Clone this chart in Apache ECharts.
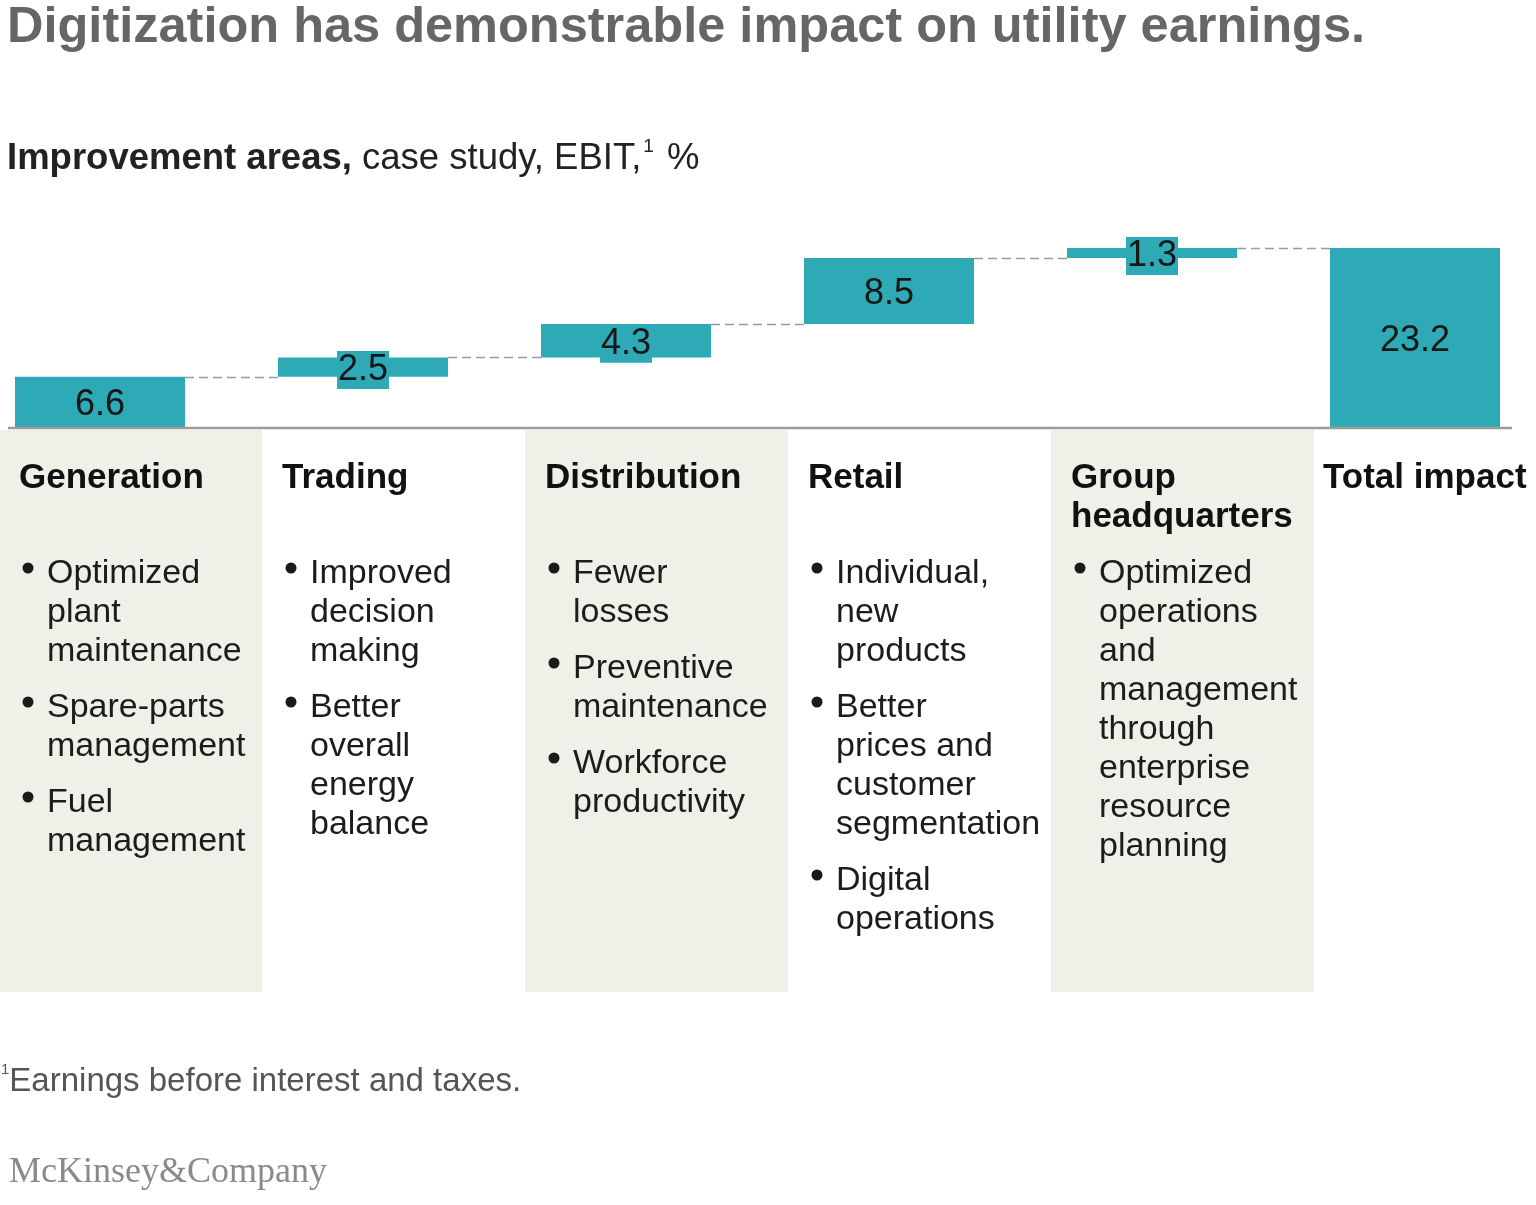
<!DOCTYPE html>
<html>
<head>
<meta charset="utf-8">
<script src="https://cdn.jsdelivr.net/npm/echarts@6/dist/echarts.min.js"></script>
<style>
html,body{margin:0;padding:0;background:#fff;}
#c{width:1536px;height:1205px;}
</style>
</head>
<body>
<div id="c"></div>
<script>
// ---- data ----
const categories = ['Generation', 'Trading', 'Distribution', 'Retail', 'Group\nheadquarters', 'Total impact'];
const values = [6.6, 2.5, 4.3, 8.5, 1.3, 23.2];
const isTotal = [false, false, false, false, false, true];
const bullets = [
  ['Optimized\nplant\nmaintenance', 'Spare-parts\nmanagement', 'Fuel\nmanagement'],
  ['Improved\ndecision\nmaking', 'Better\noverall\nenergy\nbalance'],
  ['Fewer\nlosses', 'Preventive\nmaintenance', 'Workforce\nproductivity'],
  ['Individual,\nnew\nproducts', 'Better\nprices and\ncustomer\nsegmentation', 'Digital\noperations'],
  ['Optimized\noperations\nand\nmanagement\nthrough\nenterprise\nresource\nplanning'],
  []
];
const titleText = 'Digitization has demonstrable impact on utility earnings.';
const footnoteText = 'Earnings before interest and taxes.';
const sourceText = 'McKinsey&Company';

// ---- derived waterfall bases ----
const bases = [];
const tops = [];
let run = 0;
values.forEach((v, i) => {
  if (isTotal[i]) { bases.push(0); tops.push(v); }
  else { bases.push(run); run += v; tops.push(run); }
});

const TEAL = '#2eaab7';
const FONT = '"Liberation Sans", Arial, Helvetica, sans-serif';
const BAR_W = 170;

const chart = echarts.init(document.getElementById('c'), null, {renderer: 'canvas'});

const option = {
  backgroundColor: '#ffffff',
  animation: false,
  grid: {left: -31.5, top: 234, width: 1578, height: 194, containLabel: false, outerBoundsMode: 'none'},
  xAxis: {
    type: 'category', data: categories,
    axisLine: {show: false}, axisTick: {show: false}, axisLabel: {show: false}, splitLine: {show: false}
  },
  yAxis: {
    type: 'value', min: 0, max: 25,
    axisLine: {show: false}, axisTick: {show: false}, axisLabel: {show: false}, splitLine: {show: false}
  },
  series: [
    {
      type: 'bar', name: 'base', stack: 'w', barWidth: BAR_W, silent: true,
      itemStyle: {color: 'rgba(0,0,0,0)'}, data: bases, z: 2
    },
    {
      type: 'bar', name: 'value', stack: 'w', barWidth: BAR_W, silent: true,
      itemStyle: {color: TEAL}, data: values, z: 3,
      label: {
        show: true, position: 'inside', offset: [0, 3],
        formatter: p => p.value.toFixed(1),
        fontFamily: FONT, fontSize: 36, color: '#161616',
        backgroundColor: TEAL, padding: [1, 1, 1, 1], lineHeight: 36
      }
    },
    {
      type: 'custom', name: 'connectors', silent: true, z: 1,
      data: tops.slice(0, -1).map((t, i) => [i, t]),
      renderItem: (params, api) => {
        const i = api.value(0), v = api.value(1);
        const p1 = api.coord([i, v]);
        const p2 = api.coord([i + 1, v]);
        const y = Math.round(p1[1]) + 0.5;
        return {
          type: 'line',
          shape: {x1: p1[0] + BAR_W / 2, y1: y, x2: p2[0] - BAR_W / 2, y2: y},
          style: {stroke: '#9a9a9a', lineWidth: 1.5, lineDash: [9, 5]}
        };
      }
    }
  ]
};
chart.setOption(option);

// ---- decorations placed from axis positions ----
const y0 = chart.convertToPixel({yAxisIndex: 0}, 0);
const centers = categories.map((c, i) => chart.convertToPixel({xAxisIndex: 0}, i));
const graphics = [];

// alternating panels
centers.forEach((cx, i) => {
  if (i % 2 === 0 && i < categories.length - 1) {
    graphics.push({type: 'rect', z: -10, silent: true,
      shape: {x: cx - 101, y: y0 + 2, width: 263, height: 992 - y0 - 2},
      style: {fill: '#f0efe8'}});
  }
});
// baseline
graphics.push({type: 'line', z: 10, silent: true,
  shape: {x1: 8, y1: y0, x2: 1512, y2: y0},
  style: {stroke: '#9c9c9c', lineWidth: 2.5}});

// column texts
const LH = 39;
centers.forEach((cx, i) => {
  const hx = isTotal[i] ? cx - 92 : cx - 81;
  graphics.push({type: 'text', z: 20, silent: true, x: hx, y: 478.5 - LH / 2,
    style: {text: categories[i], font: 'bold 35px ' + FONT, fill: '#111111',
      lineHeight: LH, verticalAlign: 'top', align: 'left'}});
  let y = 571;
  bullets[i].forEach(b => {
    const n = b.split('\n').length;
    graphics.push({type: 'circle', z: 20, silent: true,
      shape: {cx: hx + 9, cy: y - 3, r: 5.5}, style: {fill: '#1a1a1a'}});
    graphics.push({type: 'text', z: 20, silent: true, x: hx + 28, y: y + 2.5 - LH / 2,
      style: {text: b, font: '34px ' + FONT, fill: '#1c1c1c',
        lineHeight: LH, verticalAlign: 'top', align: 'left'}});
    y += n * LH + 17;
  });
});

// title, subtitle, footnote, source
graphics.push({type: 'text', z: 20, silent: true, x: 7, y: 28,
  style: {text: titleText, font: 'bold 50.5px ' + FONT, fill: '#666666', verticalAlign: 'middle'}});
graphics.push({type: 'text', z: 20, silent: true, x: 7, y: 137,
  style: {
    text: '{b|Improvement areas,}{r| case study, EBIT,}{s|1}{r| %}',
    verticalAlign: 'top',
    rich: {
      b: {font: 'bold 36.5px ' + FONT, fill: '#222222', lineHeight: 40, verticalAlign: 'bottom'},
      r: {font: '36.5px ' + FONT, fill: '#222222', lineHeight: 40, verticalAlign: 'bottom'},
      s: {font: '19px ' + FONT, fill: '#222222', lineHeight: 24, verticalAlign: 'top', padding: [0, 3, 0, 2]}
    }
  }});
graphics.push({type: 'text', z: 20, silent: true, x: 1, y: 1062,
  style: {
    text: '{s|1}{r|' + footnoteText + '}',
    verticalAlign: 'top',
    rich: {
      r: {font: '33px ' + FONT, fill: '#555555', lineHeight: 36, verticalAlign: 'bottom'},
      s: {font: '15px ' + FONT, fill: '#555555', lineHeight: 20, verticalAlign: 'top'}
    }
  }});
graphics.push({type: 'text', z: 20, silent: true, x: 9, y: 1173,
  style: {text: sourceText, font: '36px "Liberation Serif", "Times New Roman", serif', fill: '#8a8a8a', verticalAlign: 'middle'}});

chart.setOption({graphic: graphics});
</script>
</body>
</html>
